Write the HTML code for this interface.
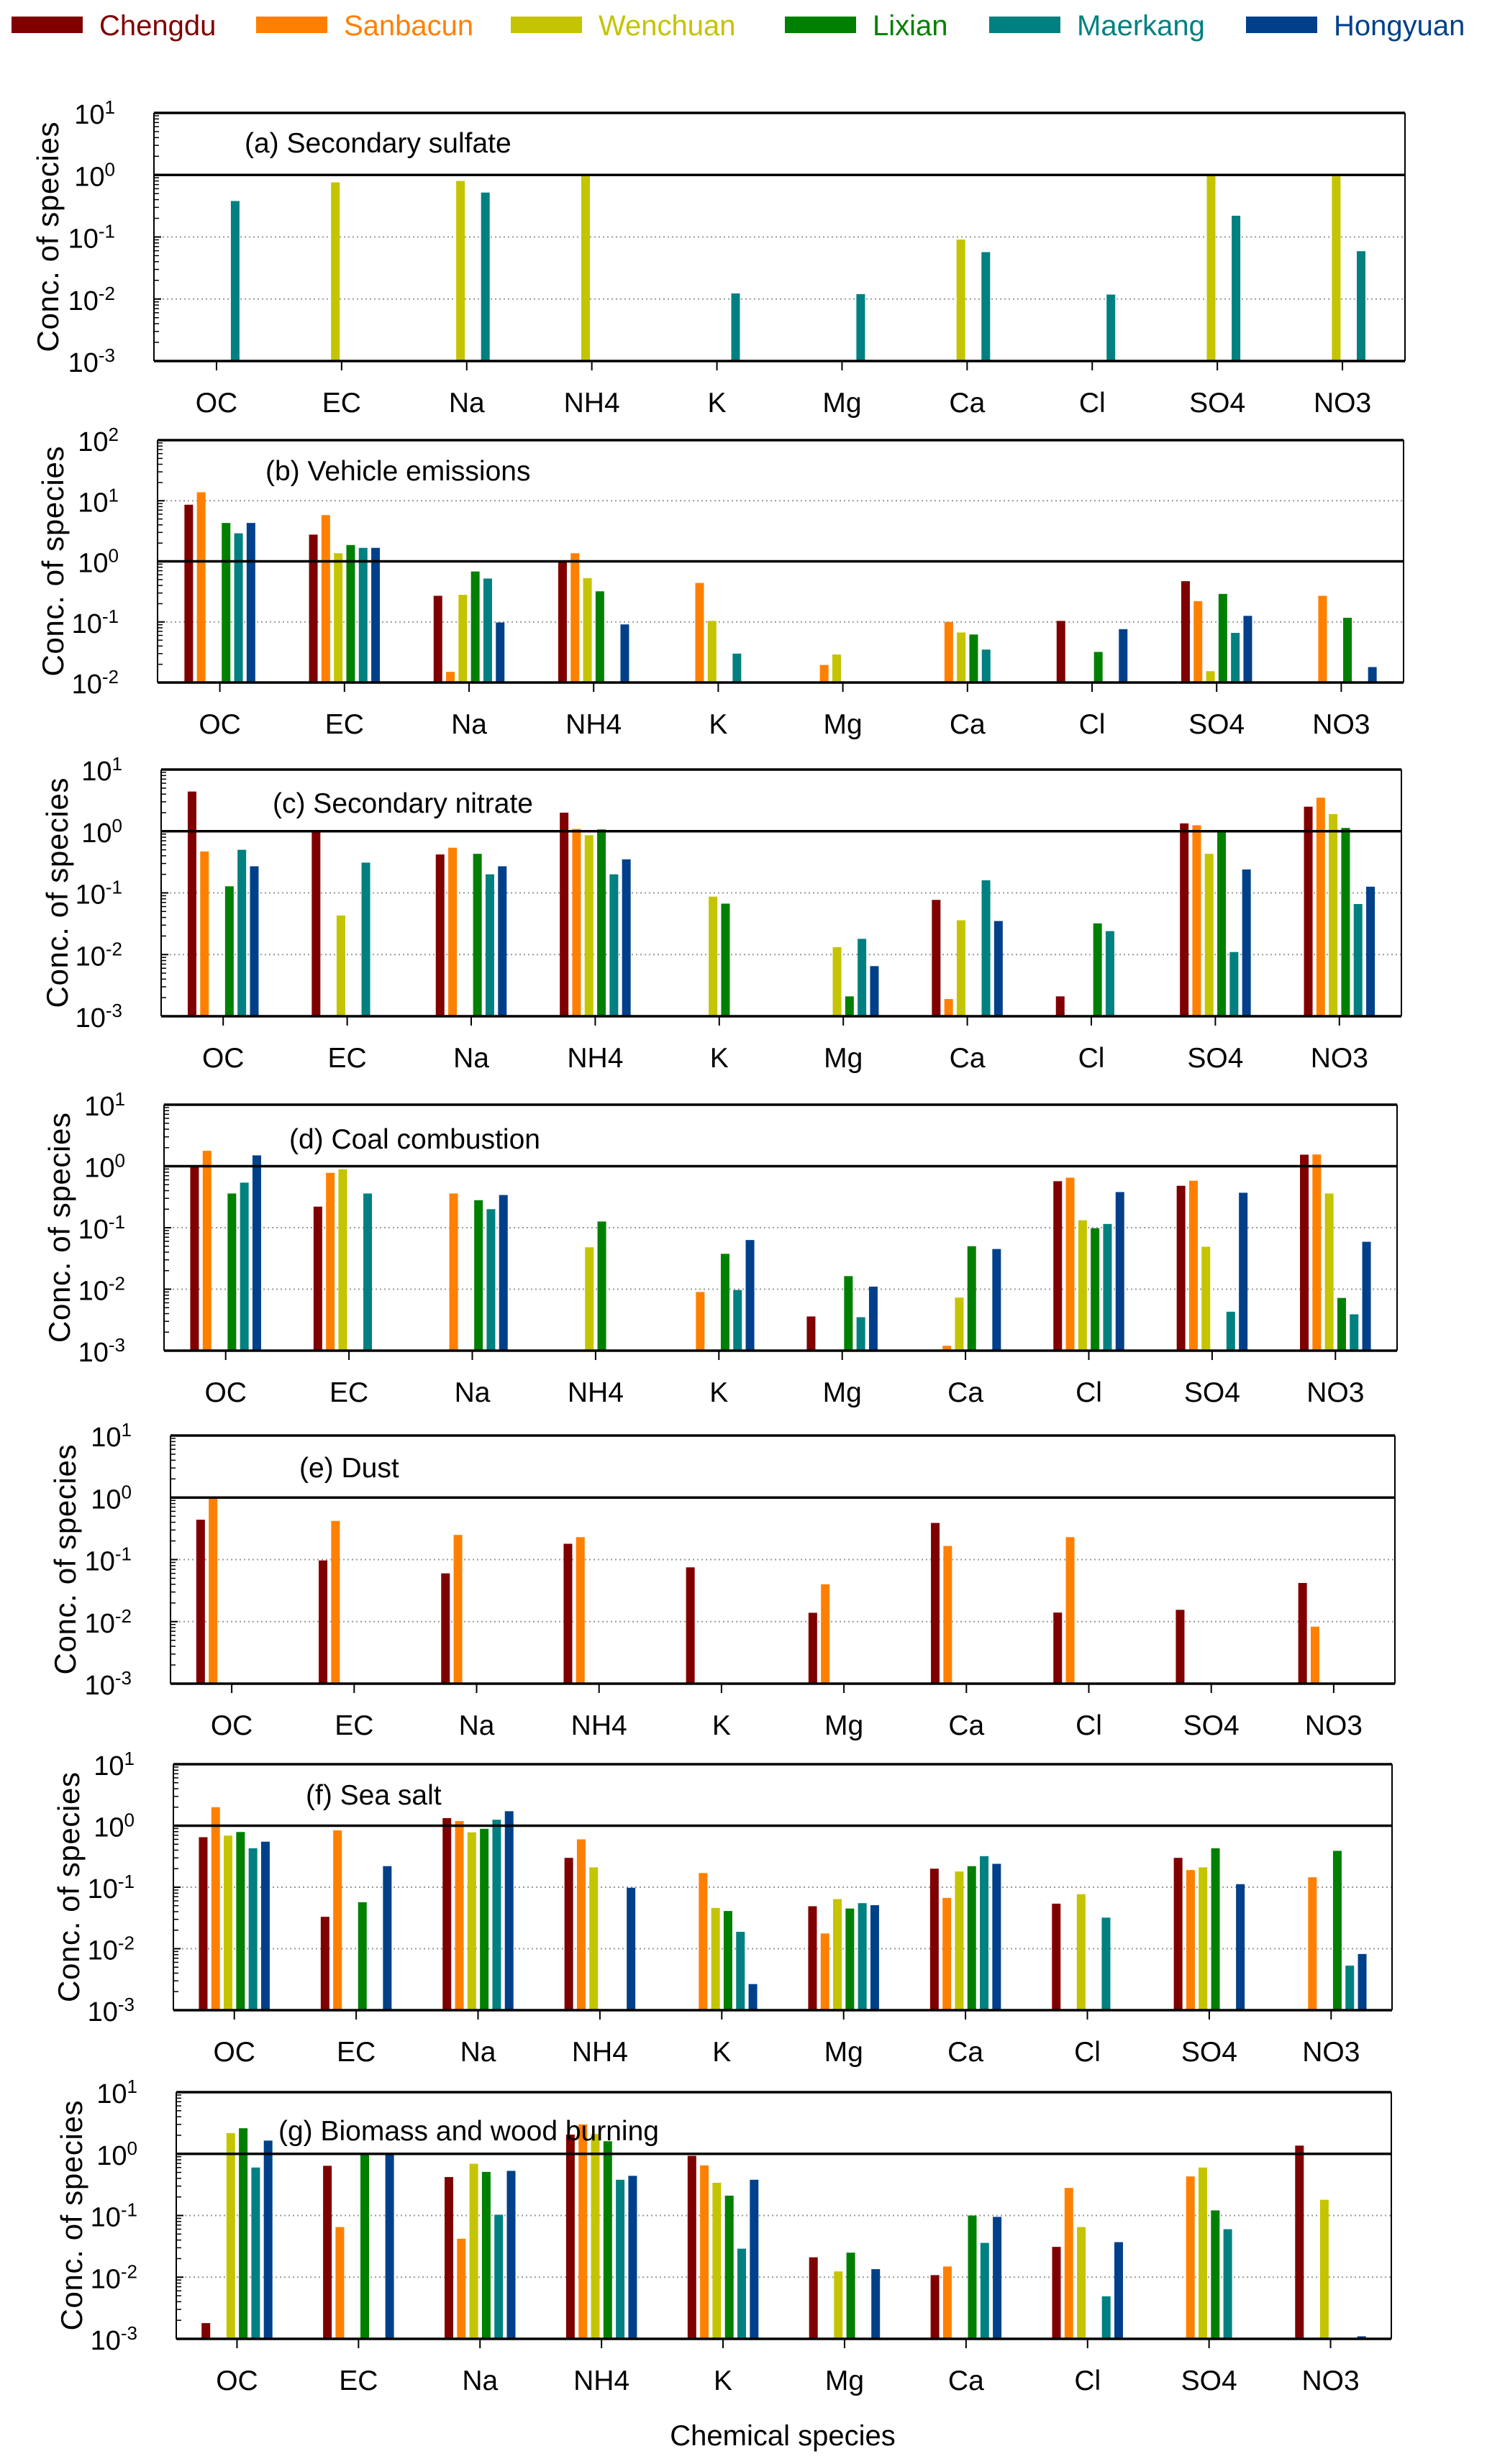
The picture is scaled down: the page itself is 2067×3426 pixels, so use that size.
<!DOCTYPE html>
<html><head><meta charset="utf-8">
<style>
html,body{margin:0;padding:0;background:#fff;}
svg{display:block;font-family:"Liberation Sans",Arial,sans-serif;}
</style></head>
<body>
<svg id="chart" width="2067" height="3426" viewBox="0 0 2067 3426" xmlns="http://www.w3.org/2000/svg">
<rect width="2067" height="3426" fill="#fff"/>
<g id="legend"></g>
<g id="panels"></g>
<text x="1088" y="3400" font-size="40" text-anchor="middle">Chemical species</text>
</svg>
<script>
const categories = ["OC","EC","Na","NH4","K","Mg","Ca","Cl","SO4","NO3"];
const seriesNames = ["Chengdu","Sanbacun","Wenchuan","Lixian","Maerkang","Hongyuan"];
const seriesColors = ["#800000","#ff8000","#c4c400","#008000","#008080","#00408a"];
const N = null;
// (a) Secondary sulfate
const sulfateValues = [
 [N,N,N,N,N,N,N,N,N,N],
 [N,N,N,N,N,N,N,N,N,N],
 [N,0.76,0.8,1.0,N,N,0.091,N,1.0,0.95],
 [N,N,N,N,N,N,N,N,N,N],
 [0.38,N,0.52,N,0.0123,0.012,0.057,0.0118,0.22,0.059],
 [N,N,N,N,N,N,N,N,N,N]];
// (b) Vehicle emissions
const vehicleValues = [
 [8.6,2.76,0.27,1.0,N,N,N,0.104,0.47,N],
 [13.8,5.8,0.015,1.36,0.44,0.0195,0.1,N,0.22,0.27],
 [N,1.36,0.28,0.53,0.104,0.029,0.067,N,0.0154,N],
 [4.3,1.86,0.68,0.32,N,N,0.062,0.032,0.29,0.117],
 [2.9,1.67,0.52,N,0.030,N,0.035,N,0.066,N],
 [4.3,1.67,0.098,0.091,N,N,N,0.076,0.126,0.018]];
// (c) Secondary nitrate
const nitrateValues = [
 [4.4,1.03,0.42,2.0,N,N,0.077,0.0021,1.34,2.5],
 [0.47,N,0.54,1.09,N,N,0.0019,N,1.25,3.5],
 [N,0.043,N,0.86,0.087,0.0132,0.036,N,0.43,1.9],
 [0.128,N,0.43,1.07,0.067,0.0021,N,0.032,1.0,1.13],
 [0.50,0.31,0.20,0.20,N,0.018,0.16,0.024,0.011,0.066],
 [0.27,N,0.27,0.35,N,0.0065,0.035,N,0.24,0.126]];
// (d) Coal combustion
const coalValues = [
 [1.0,0.22,N,N,N,0.0036,N,0.57,0.48,1.54],
 [1.78,0.78,0.36,N,0.009,N,0.0012,0.65,0.58,1.55],
 [N,0.89,N,0.048,N,N,0.0073,0.132,0.049,0.36],
 [0.36,N,0.28,0.126,0.0376,0.0163,0.05,0.098,N,0.0072],
 [0.54,0.36,0.20,N,0.0097,0.0035,N,0.115,0.0043,0.0039],
 [1.5,N,0.34,N,0.063,0.011,0.045,0.38,0.37,0.059]];
// (e) Dust
const dustValues = [
 [0.44,0.097,0.060,0.18,0.075,0.0139,0.39,0.014,0.0155,0.042],
 [0.96,0.42,0.25,0.23,N,0.040,0.166,0.23,N,0.0083],
 [N,N,N,N,N,N,N,N,N,N],
 [N,N,N,N,N,N,N,N,N,N],
 [N,N,N,N,N,N,N,N,N,N],
 [N,N,N,N,N,N,N,N,N,N]];
// (f) Sea salt
const seaSaltValues = [
 [0.65,0.033,1.33,0.30,N,0.049,0.20,0.054,0.30,N],
 [2.0,0.84,1.19,0.60,0.17,0.0177,0.067,N,0.19,0.145],
 [0.69,N,0.78,0.21,0.046,0.064,0.18,0.077,0.21,N],
 [0.79,0.057,0.89,N,0.041,0.045,0.22,N,0.43,0.39],
 [0.43,N,1.25,N,0.0188,0.055,0.32,0.032,N,0.0053],
 [0.55,0.22,1.72,0.098,0.00266,0.051,0.24,N,0.112,0.0082]];
// (g) Biomass and wood burning
const biomassValues = [
 [0.0018,0.64,0.42,2.05,0.93,0.021,0.0108,0.031,N,1.36],
 [N,0.065,0.042,3.0,0.65,N,0.0149,0.28,0.43,N],
 [2.17,N,0.69,2.1,0.34,0.0124,N,0.065,0.60,0.18],
 [2.6,0.99,0.51,1.6,0.21,0.025,0.1,N,0.121,N],
 [0.60,N,0.103,0.38,0.029,N,0.036,0.0049,0.060,N],
 [1.64,1.04,0.53,0.44,0.38,0.0135,0.095,0.037,N,0.0011]];

const panelTitles = ["(a) Secondary sulfate","(b) Vehicle emissions","(c) Secondary nitrate","(d) Coal combustion","(e) Dust","(f) Sea salt","(g) Biomass and wood burning"];
const panelData = [sulfateValues,vehicleValues,nitrateValues,coalValues,dustValues,seaSaltValues,biomassValues];
const panelExpMin = [-3,-2,-3,-3,-3,-3,-3];
const panelExpMax = [1,2,1,1,1,1,1];
const panelKeys = ["secondary-sulfate","vehicle-emissions","secondary-nitrate","coal-combustion","dust","sea-salt","biomass-burning"];

// layout (not data)
const layout = [
 {l:214,r:1953,t:157,b:502,tx:340,ty:212,yt:66},
 {l:219,r:1951,t:612,b:949,tx:369,ty:668,yt:73},
 {l:224,r:1948,t:1070,b:1413,tx:379,ty:1130,yt:79},
 {l:228,r:1942,t:1536,b:1878,tx:402,ty:1597,yt:82},
 {l:237,r:1939,t:1996,b:2341,tx:416,ty:2054,yt:90},
 {l:241,r:1935,t:2453,b:2795,tx:425,ty:2509,yt:95},
 {l:245,r:1934,t:2909,b:3252,tx:387,ty:2976,yt:99}];

const NS="http://www.w3.org/2000/svg";
function mk(tag,attrs,parent){const e=document.createElementNS(NS,tag);for(const k in attrs)e.setAttribute(k,attrs[k]);parent.appendChild(e);return e;}

// legend
const legend=document.getElementById('legend');
const legSw=[16,356,710,1091,1375,1732];
seriesNames.forEach((n,i)=>{
  const g=mk('g',{},legend);
  
  
  mk('rect',{x:legSw[i],y:23,width:99,height:23,fill:seriesColors[i]},g);
  const t=mk('text',{x:legSw[i]+122,y:49,'font-size':40,fill:seriesColors[i]},g);
  t.textContent=n;
});

const panels=document.getElementById('panels');
panelData.forEach((vals,p)=>{
  const L=layout[p];
  const emin=panelExpMin[p], emax=panelExpMax[p];
  const yScale=v=>L.b-(Math.log10(v)-emin)/(emax-emin)*(L.b-L.t);
  const step=(L.r-L.l)/categories.length;
  const xCenter=i=>L.l+(i+0.5)*step;
  const g=mk('g',{},panels);
  
  
  // grid lines
  for(let e=emin+1;e<emax;e++){
    const y=yScale(Math.pow(10,e));
    if(e===0) continue;
    const gl=mk('line',{x1:L.l,x2:L.r,y1:y,y2:y,stroke:'#999','stroke-width':2,'stroke-dasharray':'2,4'},g);
    
    
  }
  // bars
  vals.forEach((series,s)=>{
    series.forEach((v,c)=>{
      if(v===null||v===undefined) return;
      const y=yScale(v);
      const x=xCenter(c)+(s-2.5)*17.3-6;
      const r=mk('rect',{x:x,y:y,width:12,height:Math.max(0,L.b-y),fill:seriesColors[s]},g);
      
      
    });
  });
  // frame
  mk('line',{x1:L.l,x2:L.r,y1:L.t,y2:L.t,stroke:'#000','stroke-width':3.5},g);
  mk('line',{x1:L.l,x2:L.r,y1:L.b,y2:L.b,stroke:'#000','stroke-width':3.5},g);
  mk('line',{x1:L.l,x2:L.l,y1:L.t,y2:L.b,stroke:'#000','stroke-width':2},g);
  mk('line',{x1:L.r,x2:L.r,y1:L.t,y2:L.b,stroke:'#000','stroke-width':2},g);
  const y1=yScale(1);
  const ref=mk('line',{x1:L.l,x2:L.r,y1:y1,y2:y1,stroke:'#000','stroke-width':3.5},g);
  
  
  // minor ticks & labels
  for(let e=emin;e<=emax;e++){
    const y=yScale(Math.pow(10,e));
    mk('line',{x1:L.l,x2:L.l+10,y1:y,y2:y,stroke:'#000','stroke-width':2},g);
    if(e<emax){for(let m=2;m<=9;m++){const ym=yScale(m*Math.pow(10,e));mk('line',{x1:L.l,x2:L.l+7,y1:ym,y2:ym,stroke:'#000','stroke-width':1.5},g);}}
    const t=mk('text',{x:L.l-35,y:y+15,'font-size':38,'text-anchor':'end'},g);
    
    
    const t1=mk('tspan',{},t);t1.textContent='10';
    const t2=mk('tspan',{'font-size':26,dy:-14},t);t2.textContent=String(e);
    t.setAttribute('x',L.l-54);
    t.setAttribute('text-anchor','end');
  }
  // x ticks and labels
  categories.forEach((c,i)=>{
    const x=xCenter(i);
    mk('line',{x1:x,x2:x,y1:L.b,y2:L.b+13,stroke:'#000','stroke-width':2},g);
    const t=mk('text',{x:x,y:L.b+71,'font-size':39,'text-anchor':'middle'},g);
    
    
    t.textContent=c;
  });
  // title
  const tt=mk('text',{x:L.tx,y:L.ty,'font-size':39},g);
  
  
  tt.textContent=panelTitles[p];
  // y axis title
  const cy=(L.t+L.b)/2;
  const yt=mk('text',{x:0,y:0,'font-size':42,'text-anchor':'middle',textLength:320,lengthAdjust:'spacing',transform:`translate(${L.yt+15},${cy}) rotate(-90)`},g);
  
  
  yt.textContent='Conc. of species';
});
</script>
</body></html>
